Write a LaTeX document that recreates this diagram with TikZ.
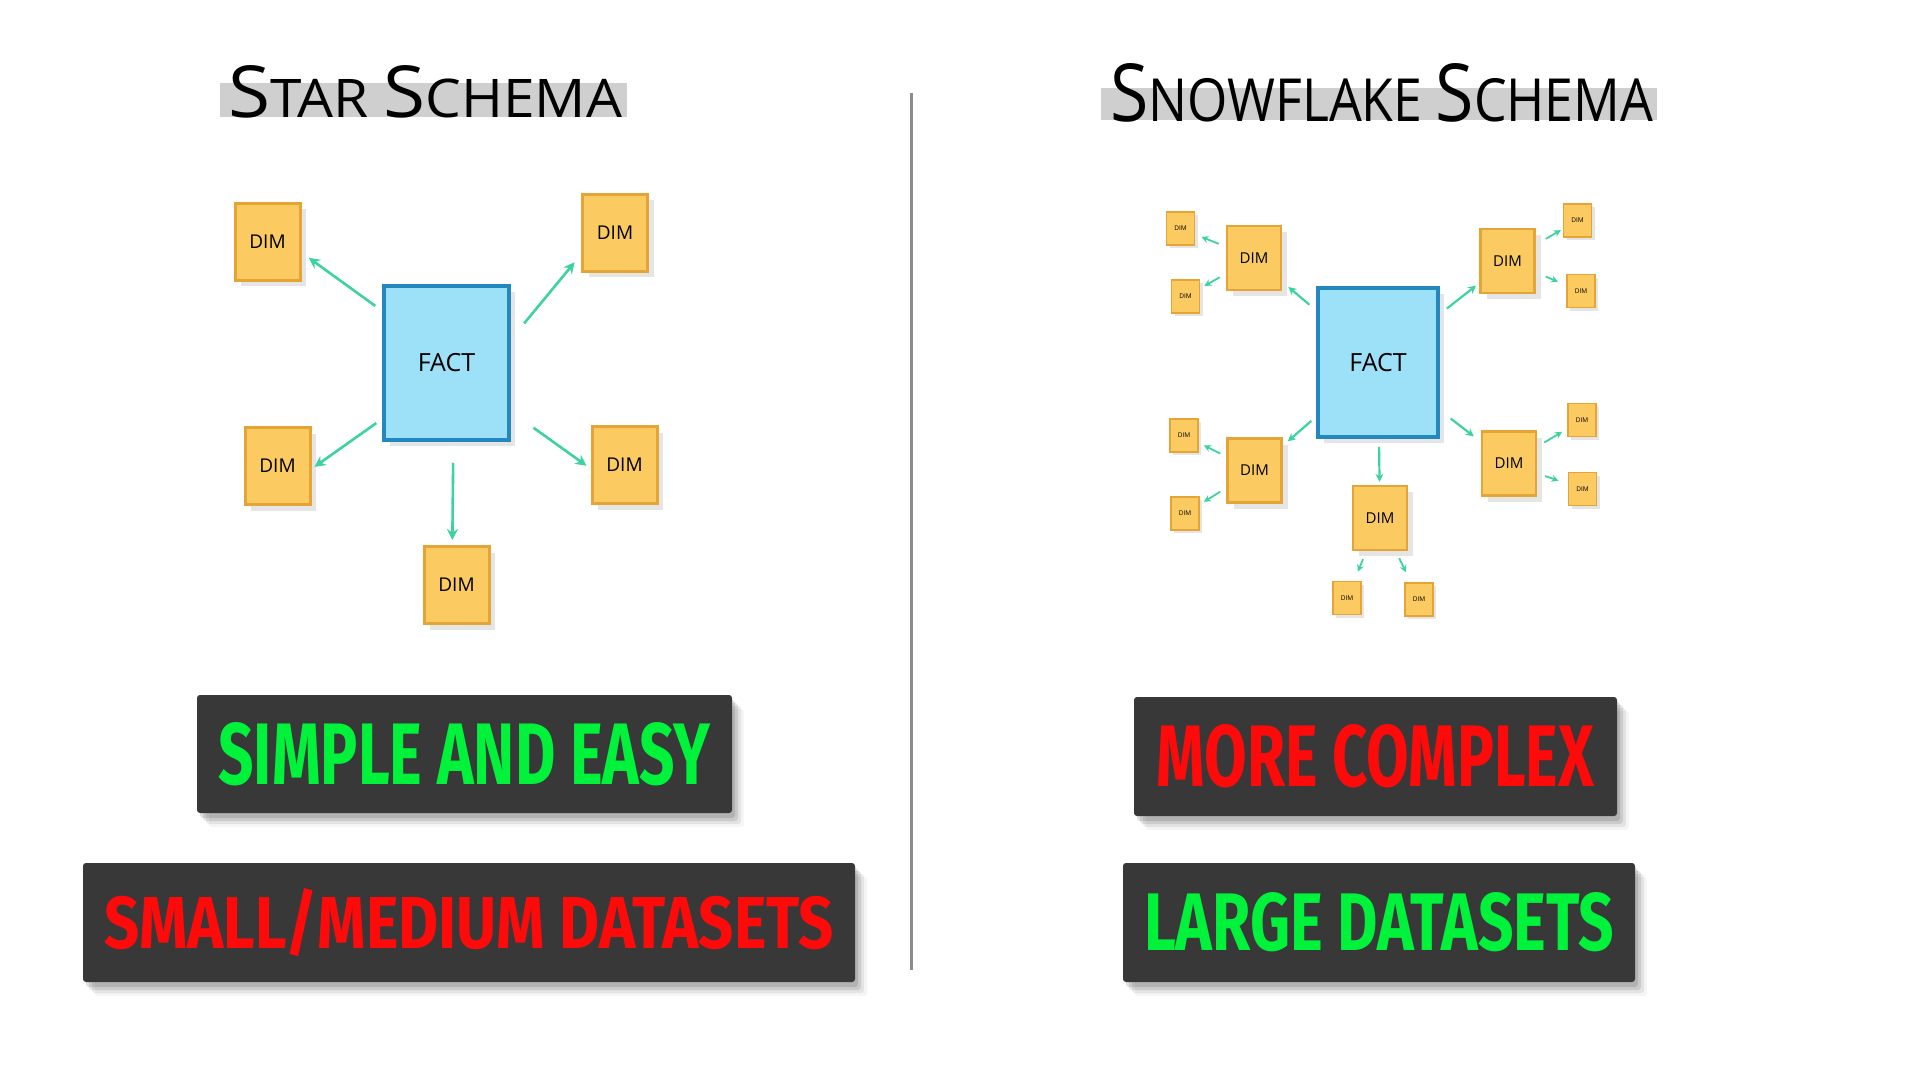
\documentclass[tikz,border=0pt]{standalone}
\usepackage{fontspec}
\usepackage{graphicx}
\usetikzlibrary{arrows.meta,shadows}
\newfontfamily\handfont{Open Sans}
\newfontfamily\tagfont{Fira Sans}
\definecolor{dimfill}{HTML}{FBCB62}
\definecolor{dimline}{HTML}{E5A436}
\definecolor{factfill}{HTML}{9DE1F8}
\definecolor{factline}{HTML}{2488C0}
\definecolor{arrowc}{HTML}{3DD3A0}
\definecolor{tagbg}{HTML}{383838}
\definecolor{tgreen}{HTML}{00F23A}
\definecolor{tred}{HTML}{FF0A0A}
\definecolor{band}{HTML}{CFCFCF}
\definecolor{divline}{HTML}{8C8C8C}
\newcommand{\bigS}[1]{{\fontsize{62}{62}\selectfont #1}}
\tikzset{
  softshadow/.style={drop shadow={shadow xshift=6pt,shadow yshift=-6pt,fill=black,opacity=0.10}},
  tinyshadow/.style={drop shadow={shadow xshift=3pt,shadow yshift=-3pt,fill=black,opacity=0.10}},
  dimbase/.style={rectangle,draw=dimline,fill=dimfill,inner sep=0pt},
  dimbig/.style={dimbase,softshadow,line width=3pt,minimum width=65pt,minimum height=77pt,font=\handfont\fontsize{19}{19}\selectfont},
  dimmid/.style={dimbase,softshadow,line width=2.5pt,minimum width=54pt,minimum height=64pt,font=\handfont\fontsize{15}{15}\selectfont},
  dimsmall/.style={dimbase,tinyshadow,line width=1.8pt,minimum width=28pt,minimum height=33pt,font=\handfont\fontsize{6.5}{6.5}\selectfont},
  factbox/.style={rectangle,draw=factline,fill=factfill,line width=3.5pt,softshadow,inner sep=0pt,font=\handfont\fontsize{25}{25}\selectfont},
  arr/.style={draw=arrowc,line width=2.6pt,-{Stealth[length=11pt,width=11pt]}},
  arrm/.style={draw=arrowc,line width=2.2pt,-{Stealth[length=8pt,width=8pt]}},
  arrs/.style={draw=arrowc,line width=1.8pt,-{Stealth[length=7pt,width=7pt]}},
  tag/.style={rectangle,rounded corners=3pt,fill=tagbg,inner sep=0pt,
    drop shadow={shadow xshift=3pt,shadow yshift=-5pt,fill=black,opacity=0.12},
    drop shadow={shadow xshift=6pt,shadow yshift=-8pt,fill=black,opacity=0.10},
    drop shadow={shadow xshift=9pt,shadow yshift=-11pt,fill=black,opacity=0.07},
    drop shadow={shadow xshift=12pt,shadow yshift=-14pt,fill=black,opacity=0.04}},
}
\begin{document}
\begin{tikzpicture}[x=1pt,y=-1pt]
\useasboundingbox (0,0) rectangle (1920,1080);
\fill[white] (0,0) rectangle (1920,1080);

% titles
\fill[band] (220,83) rectangle (627,117);
\fill[band] (1101,88) rectangle (1657,120);
\node[anchor=base west,inner sep=0pt] (title1) at (228,117)
  {\resizebox{394pt}{52pt}{\handfont\fontsize{46}{46}\selectfont\bigS{S}TAR \bigS{S}CHEMA}};
\node[anchor=base west,inner sep=0pt] (title2) at (1110,121)
  {\resizebox{543pt}{58pt}{\handfont\fontsize{46}{46}\selectfont\bigS{S}NOWFLAKE \bigS{S}CHEMA}};

% divider
\draw[divline,line width=2.5pt] (911.5,93) -- (911.5,970);

% star schema
\node[factbox,minimum width=125pt,minimum height=154pt] (fact) at (446.5,363) {FACT};
\node[dimbig] (d1) at (267.5,241.5) {DIM};
\node[dimbig] (d2) at (615,232.5) {DIM};
\node[dimbig] (d3) at (277.5,466) {DIM};
\node[dimbig] (d4) at (624.5,465) {DIM};
\node[dimbig] (d5) at (456.5,585) {DIM};
\draw[arr,shorten <=8.6pt,shorten >=9pt] (fact.141.4) -- (d1.-18.2);
\draw[arr,shorten <=21pt,shorten >=10pt] (fact.20.9) -- (d2.213.8);
\draw[arr,shorten <=7.3pt,shorten >=3.7pt] (fact.221.2) -- (d3.-5.3);
\draw[arr,shorten <=28pt,shorten >=4.9pt] (fact.-37.5) -- (d4.186.7);
\draw[arr,shorten <=21pt,shorten >=5pt] (fact.-85.9) -- (d5.96.8);

% snowflake schema
\node[factbox,minimum width=120pt,minimum height=149pt] (F) at (1378,362.5) {FACT};
\node[dimmid] (M1) at (1254,258) {DIM};
\node[dimmid] (M2) at (1507.5,261) {DIM};
\node[dimmid] (M3) at (1254.5,470.5) {DIM};
\node[dimmid] (M4) at (1509,463.5) {DIM};
\node[dimmid] (M5) at (1380,518) {DIM};
\node[dimsmall] (s1a) at (1180.5,228.5) {DIM};
\node[dimsmall] (s1b) at (1185.5,296.5) {DIM};
\node[dimsmall] (s2a) at (1577.5,220.5) {DIM};
\node[dimsmall] (s2b) at (1581,291) {DIM};
\node[dimsmall] (s3a) at (1184,435.5) {DIM};
\node[dimsmall] (s3b) at (1185,513.5) {DIM};
\node[dimsmall] (s4a) at (1582,420) {DIM};
\node[dimsmall] (s4b) at (1582.5,489) {DIM};
\node[dimsmall] (s5a) at (1347,598) {DIM};
\node[dimsmall] (s5b) at (1419,599.5) {DIM};

\draw[arrm,shorten <=9pt,shorten >=8pt] (F) -- (M1);
\draw[arrm,shorten <=9pt,shorten >=4pt] (F) -- (M2);
\draw[arrm,shorten <=6.6pt,shorten >=6.8pt] (F) -- (M3);
\draw[arrm,shorten <=13.8pt,shorten >=8.8pt] (F) -- (M4);
\draw[arrm,shorten <=8pt,shorten >=3pt] (F) -- (M5);
\draw[arrs,shorten <=7.5pt,shorten >=6.5pt] (M1) -- (s1a);
\draw[arrs,shorten <=7pt,shorten >=4.5pt] (M1) -- (s1b);
\draw[arrs,shorten <=11.6pt,shorten >=2pt] (M2) -- (s2a);
\draw[arrs,shorten <=10.8pt,shorten >=8.7pt] (M2) -- (s2b);
\draw[arrs,shorten <=6.7pt,shorten >=5.6pt] (M3) -- (s3a);
\draw[arrs,shorten <=7pt,shorten >=4.7pt] (M3) -- (s3b);
\draw[arrs,shorten <=8.2pt,shorten >=5.8pt] (M4) -- (s4a);
\draw[arrs,shorten <=8.4pt,shorten >=9.6pt] (M4) -- (s4b);
\draw[arrs,shorten <=8.6pt,shorten >=9.7pt] (M5) -- (s5a);
\draw[arrs,shorten <=7.7pt,shorten >=11pt] (M5) -- (s5b);

% tags
\node[tag,minimum width=535pt,minimum height=118pt,text=tgreen] (t1) at (464.5,754)
  {\resizebox{492pt}{62pt}{\tagfont\bfseries SIMPLE AND EASY}};
\node[tag,minimum width=772pt,minimum height=119pt,text=tred] (t2) at (469,922.5)
  {\resizebox{729pt}{60pt}{\tagfont\bfseries SMALL/MEDIUM DATASETS}};
\node[tag,minimum width=483pt,minimum height=119pt,text=tred] (t3) at (1375.5,756.5)
  {\resizebox{437pt}{62pt}{\tagfont\bfseries MORE COMPLEX}};
\node[tag,minimum width=512pt,minimum height=119pt,text=tgreen] (t4) at (1379,922.5)
  {\resizebox{470pt}{58pt}{\tagfont\bfseries LARGE DATASETS}};
\end{tikzpicture}
\end{document}
